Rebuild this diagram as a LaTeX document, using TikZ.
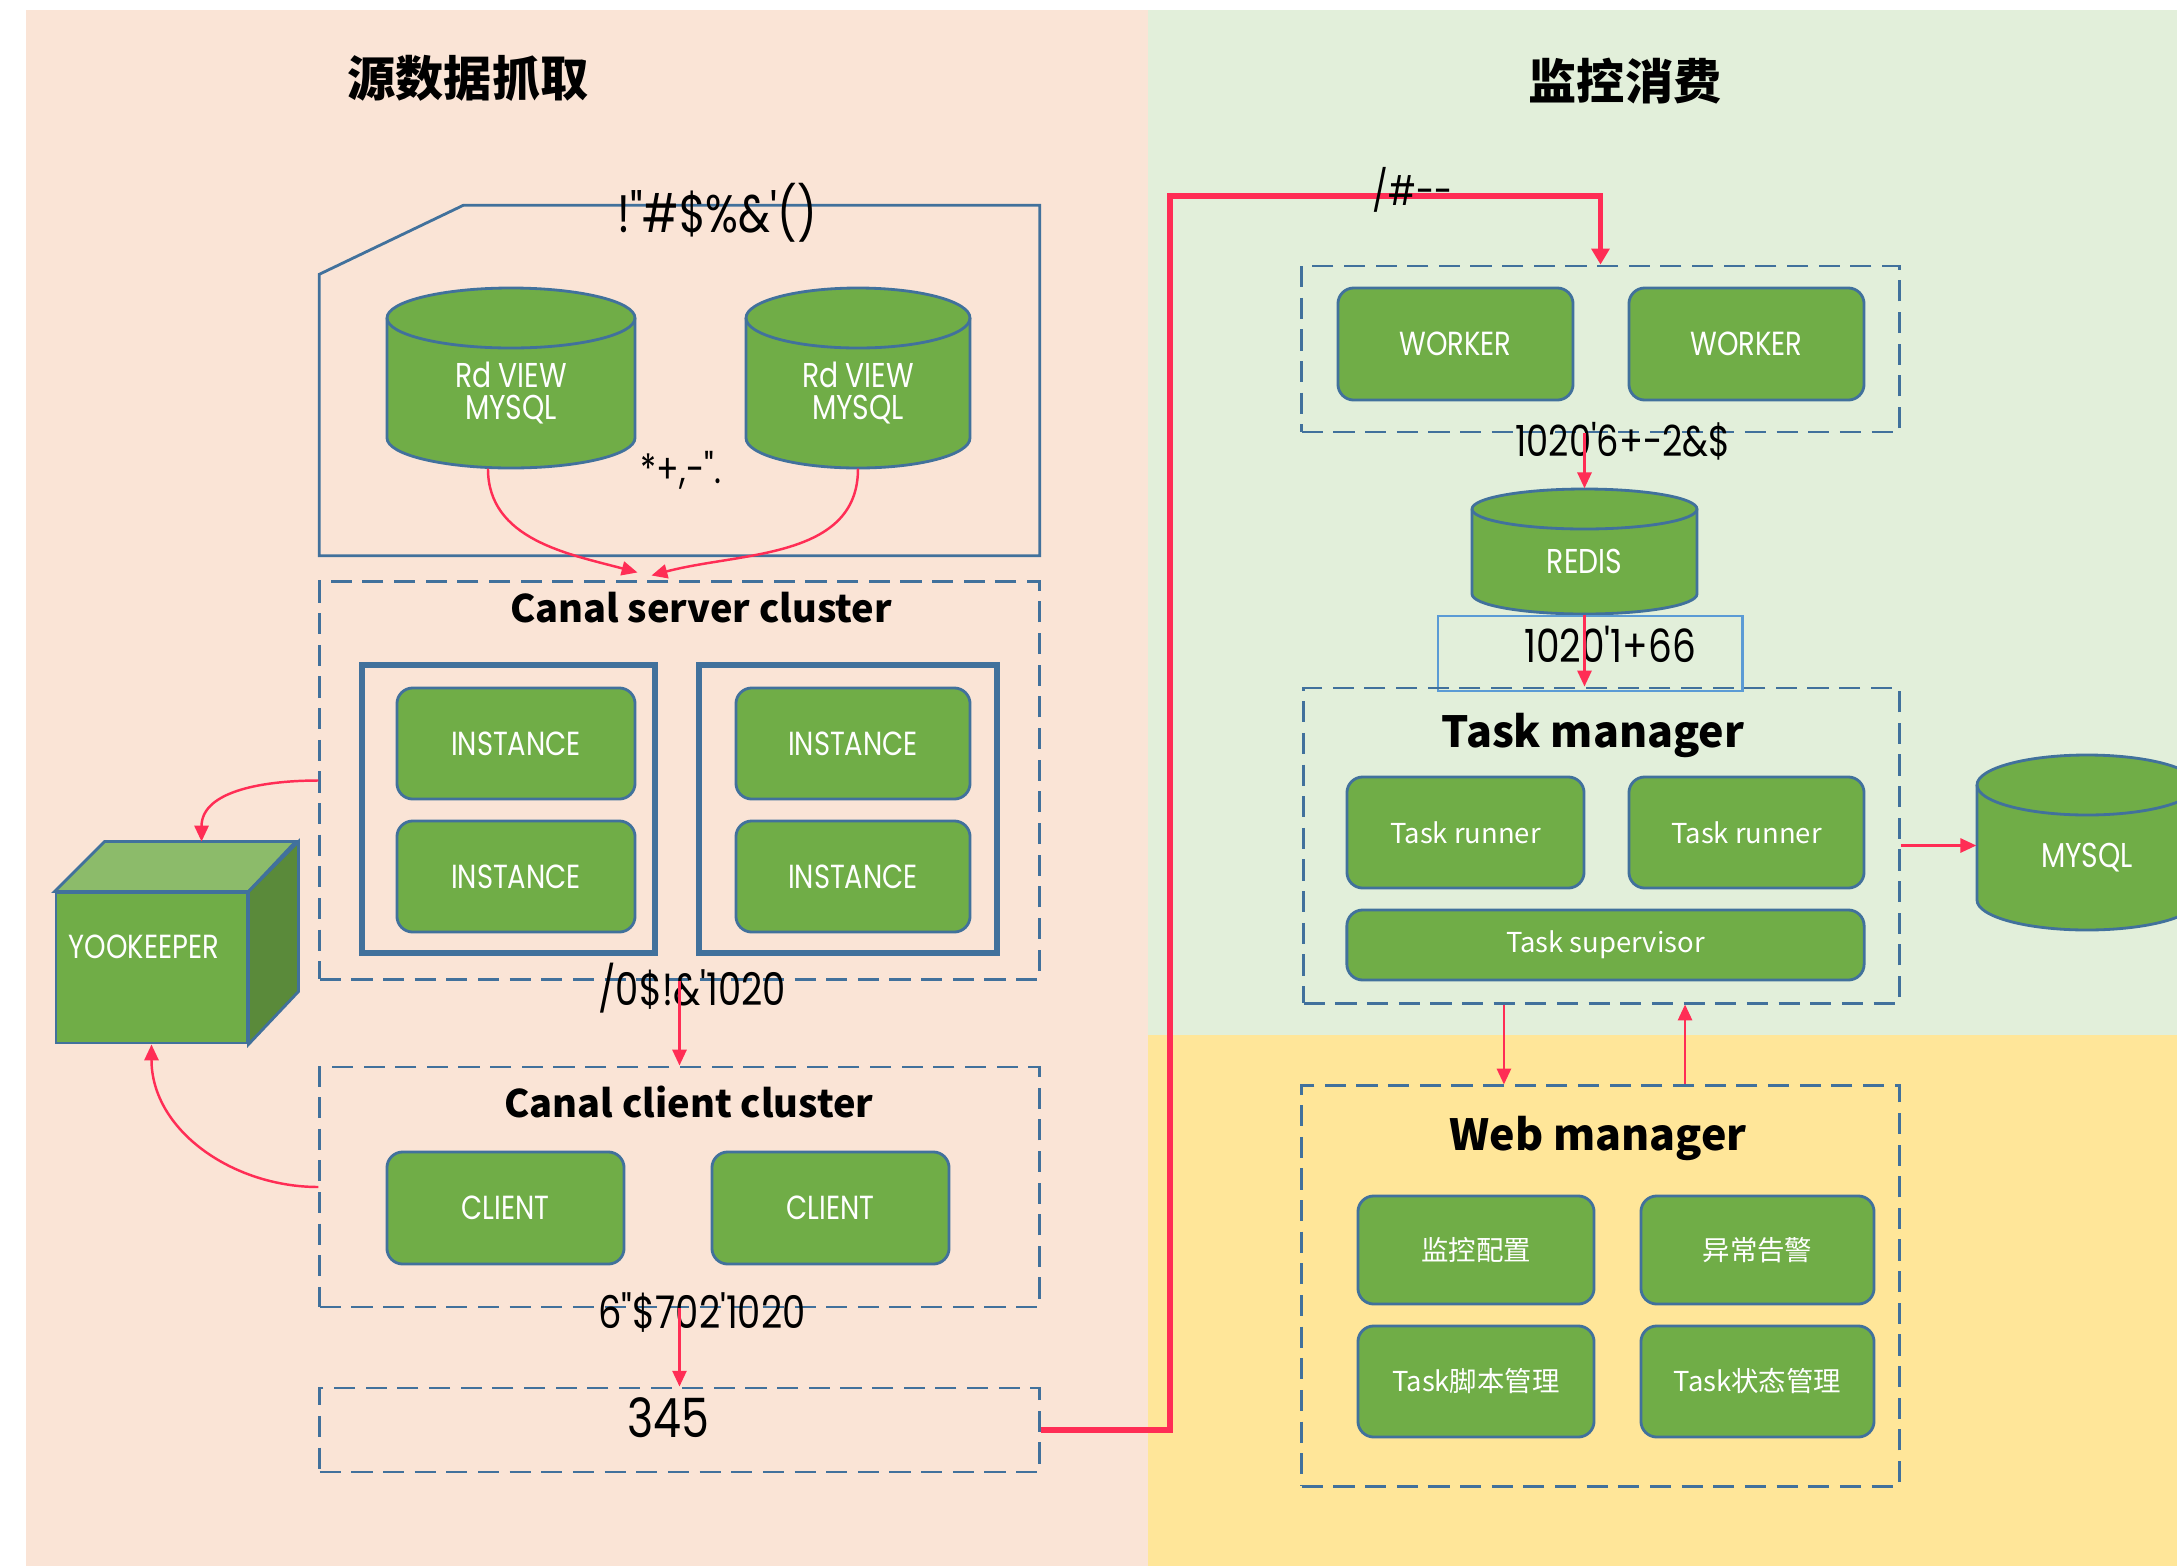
\documentclass[tikz,border=0pt]{standalone}
\usepackage{fontspec}
\newfontfamily\geofont[FakeStretch=0.82,Ligatures=TeXOff]{Poppins}
\newfontfamily\cjkfont{Noto Sans CJK SC}
\usetikzlibrary{arrows.meta,fit,calc,positioning}
\definecolor{srcbg}{RGB}{250,228,214}
\definecolor{monbg}{RGB}{226,239,218}
\definecolor{webbg}{RGB}{255,230,153}
\definecolor{boxgreen}{RGB}{112,173,71}
\definecolor{boxline}{RGB}{65,113,156}
\definecolor{cubetop}{RGB}{140,187,106}
\definecolor{cubeside}{RGB}{90,138,58}
\definecolor{arrowred}{RGB}{255,45,85}
\definecolor{tboxblue}{RGB}{91,155,213}
\tikzset{
    %Define standard arrow tip
    >={Triangle[length=4.5pt,width=4pt]},
    %Define style for boxes
    greenbox/.style={
           rectangle,
           rounded corners=4.5pt,
           draw=boxline, line width=0.8pt,
           fill=boxgreen,
           text=white,
           font=\geofont\fontsize{9.5}{10}\selectfont},
    taskbox/.style={greenbox, font=\cjkfont\fontsize{7.8}{10}\selectfont},
    cluster/.style={
           rectangle,
           draw=boxline, line width=0.8pt,
           dash pattern=on 6pt off 3pt},
    instframe/.style={rectangle, draw=boxline, line width=1.5pt},
    cubeface/.style={draw=boxline, line width=0.8pt, fill=boxgreen},
    grouptitle/.style={font=\cjkfont\bfseries\fontsize{10.8}{13}\selectfont, inner sep=0pt},
    bigtitle/.style={font=\cjkfont\bfseries\fontsize{12.2}{15}\selectfont, inner sep=0pt},
    paneltitle/.style={font=\cjkfont\bfseries\fontsize{13.7}{16}\selectfont, inner sep=0pt},
    codelabel/.style={font=\geofont\fontsize{12.8}{14}\selectfont, inner sep=0pt},
    dbshape/.style={fill=boxgreen, draw=boxline, line width=0.8pt},
    dbedge/.style={draw=boxline, line width=0.8pt},
    dbtext/.style={text=white, font=\geofont\fontsize{9.8}{9.2}\selectfont, align=center, inner sep=0pt},
    % Define arrow style
    pil/.style={->, draw=arrowred, line width=0.7pt},
    bigpil/.style={-{Triangle[length=4.5pt,width=5pt]}, draw=arrowred, line width=1.5pt},
}
% database cylinder: name, left, right, top, bottom, y radius, text
\newcommand\dbcyl[7]{%
  \path[dbshape] (#2,#4-#6) -- (#2,#5+#6)
     arc[start angle=180,end angle=360,x radius={(#3-#2)/2},y radius=#6]
     -- (#3,#4-#6)
     arc[start angle=0,end angle=180,x radius={(#3-#2)/2},y radius=#6] -- cycle;
  \draw[dbedge] (#2,#4-#6) arc[start angle=180,end angle=360,x radius={(#3-#2)/2},y radius=#6];
  \node[inner sep=0pt, fit={(#2,#4) (#3,#5)}] (#1) {};
  \node[dbtext] (#1-t) at ({(#2+#3)/2},{(#4+(#5)-#6)/2}) {#7};
}

\begin{document}
\begin{tikzpicture}[x=0.01cm,y=0.01cm]
\useasboundingbox (0,0) rectangle (2177,-1566);
\clip (0,0) rectangle (2177,-1566);
% panels
\fill[srcbg] (26,-10) rectangle (1148,-1566);
\fill[monbg] (1148,-10) rectangle (2177,-1035);
\fill[webbg] (1148,-1035) rectangle (2177,-1566);
\node[paneltitle] (srct) at (468,-78) {源数据抓取};
\node[paneltitle] (mont) at (1625,-81) {监控消费};

% source databases
\node[inner sep=0pt, fit={(320,-206) (1039,-555)}] (srcbox) {};
\draw[boxline, line width=0.8pt] (srcbox.south west) -- ($(srcbox.north west)+(0,-69)$)
    -- ($(srcbox.north west)+(144,0)$) -- (srcbox.north east) -- (srcbox.south east) -- cycle;
\node[codelabel, font=\geofont\fontsize{15}{17}\selectfont] (srcl) at (717,-213) {!"\#\$\%\&'()};
\dbcyl{db1}{387}{635}{-288}{-468}{30}{Rd VIEW\\MYSQL}
\dbcyl{db2}{746}{970}{-288}{-468}{30}{Rd VIEW\\MYSQL}
\node[codelabel, font=\geofont\fontsize{11.5}{13}\selectfont] (binl) at (681,-470) {*+,-".};

% canal server
\node[cluster, minimum width=7.19cm, minimum height=3.97cm] (canalsrv) at (679.5,-780.5) {};
\node[grouptitle] (srvt) at (701,-608) {Canal server cluster};
\node[instframe, minimum width=2.93cm, minimum height=2.88cm] (fr1) at (508.5,-809) {};
\node[instframe, minimum width=2.98cm, minimum height=2.88cm] (fr2) at (848,-809) {};
\node[greenbox, minimum width=2.38cm, minimum height=1.11cm] (in1) at (516,-743.5) {INSTANCE};
\node[greenbox, minimum width=2.38cm, minimum height=1.11cm] (in2) at (516,-876.5) {INSTANCE};
\node[greenbox, minimum width=2.34cm, minimum height=1.11cm] (in3) at (853,-743.5) {INSTANCE};
\node[greenbox, minimum width=2.34cm, minimum height=1.11cm] (in4) at (853,-876.5) {INSTANCE};

% zookeeper
\node[cubeface, minimum width=1.91cm, minimum height=1.50cm] (zk) at (151.5,-968) {};
\draw[cubeface, fill=cubetop] (zk.north west) -- ++(50,50) -- ++(191,0) -- (zk.north east) -- cycle;
\draw[cubeface, fill=cubeside] (zk.north east) -- ++(50,50) -- ++(0,-150) -- (zk.south east) -- cycle;
\node[dbtext, font=\geofont\fontsize{9.5}{10}\selectfont, anchor=west] (zkt) at (68,-947) {YOOKEEPER};
\coordinate (zktop) at ($(zk.north west)+(147,50)$);

% canal client
\node[codelabel] (srvl) at (692,-988) {/0\$!\&'1020};
\node[cluster, minimum width=7.19cm, minimum height=2.40cm] (canalcli) at (679.5,-1187) {};
\node[grouptitle] (clit) at (689,-1102) {Canal client cluster};
\node[greenbox, minimum width=2.37cm, minimum height=1.12cm] (cl1) at (505.5,-1208) {CLIENT};
\node[greenbox, minimum width=2.37cm, minimum height=1.12cm] (cl2) at (830.5,-1208) {CLIENT};
\node[codelabel] (clil) at (702,-1313) {6"\$702'1020};
\node[cluster, minimum width=7.19cm, minimum height=0.84cm] (outbox) at (679.5,-1430) {};
\node[codelabel, font=\geofont\fontsize{15.4}{17}\selectfont] (outl) at (668,-1418) {345};

\draw[pil] ([xshift=-0.23cm]db1.south) to[out=-90,in=165] ($(canalsrv.north)+(-42,8)$);
\draw[pil] (db2.south) to[out=-90,in=15] ($(canalsrv.north)+(-28,5)$);
\draw[pil] (canalsrv.west) to[out=180,in=90] (zktop);
\draw[pil] (canalcli.west) to[out=180,in=-90] (zk.south);
\draw[pil] (canalsrv.south) -- (canalcli.north);
\draw[pil] (canalcli.south) -- (outbox.north);

% workers
\node[cluster, minimum width=5.97cm, minimum height=1.66cm] (workers) at (1600.5,-349) {};
\node[greenbox, minimum width=2.35cm, minimum height=1.12cm] (wk1) at (1455.5,-344) {WORKER};
\node[greenbox, minimum width=2.35cm, minimum height=1.12cm] (wk2) at (1746.5,-344) {WORKER};
\coordinate (bend) at (1170,-196);
\draw[bigpil] (outbox.east) -| (bend) -| (workers.north);
\node[codelabel, font=\geofont\fontsize{11.5}{13}\selectfont] (busl) at (1413,-190) {/\#--};
\node[codelabel, font=\geofont\fontsize{12.2}{14}\selectfont] (wkl) at (1623,-441) {1020'6+-2\&\$};

% redis
\dbcyl{redis}{1472}{1697}{-489}{-614}{20}{REDIS}
\node[draw=tboxblue, line width=0.8pt, minimum width=3.04cm, minimum height=0.75cm] (tbox) at (1590,-653.5) {};
\node[codelabel, font=\geofont\fontsize{13}{15}\selectfont] (tboxl) at (1610,-644) {1020'1+66};

% task manager
\node[cluster, minimum width=5.95cm, minimum height=3.15cm] (taskmgr) at (1601.5,-845.5) {};
\node[bigtitle] (taskt) at (1593,-735) {Task manager};
\node[taskbox, minimum width=2.37cm, minimum height=1.11cm] (tr1) at (1465.5,-832.5) {Task runner};
\node[taskbox, minimum width=2.35cm, minimum height=1.11cm] (tr2) at (1746.5,-832.5) {Task runner};
\node[taskbox, minimum width=5.17cm, minimum height=0.70cm] (tsup) at (1605.5,-945) {Task supervisor};
\dbcyl{mysql}{1977}{2197}{-755}{-930}{30}{MYSQL}

\draw[pil] (redis.north |- workers.south) -- (redis.north);
\draw[pil] (redis.south) -- (redis.south |- taskmgr.north);
\draw[pil] (taskmgr.east) -- (taskmgr.east -| mysql.west);

% web manager
\node[cluster, minimum width=5.97cm, minimum height=4.00cm] (webmgr) at (1600.5,-1286) {};
\node[bigtitle] (webt) at (1598,-1138) {Web manager};
\node[taskbox, minimum width=2.36cm, minimum height=1.08cm] (wb1) at (1476,-1250) {监控配置};
\node[taskbox, minimum width=2.33cm, minimum height=1.08cm] (wb2) at (1757.5,-1250) {异常告警};
\node[taskbox, minimum width=2.36cm, minimum height=1.11cm] (wb3) at (1476,-1381.5) {Task脚本管理};
\node[taskbox, minimum width=2.33cm, minimum height=1.11cm] (wb4) at (1757.5,-1381.5) {Task状态管理};

\coordinate (dn) at ([xshift=-0.975cm]taskmgr.south);
\coordinate (up) at ([xshift=0.845cm]webmgr.north);
\draw[pil] (dn) -- (dn |- webmgr.north);
\draw[pil] (up) -- (up |- taskmgr.south);
\end{tikzpicture}
\end{document}
